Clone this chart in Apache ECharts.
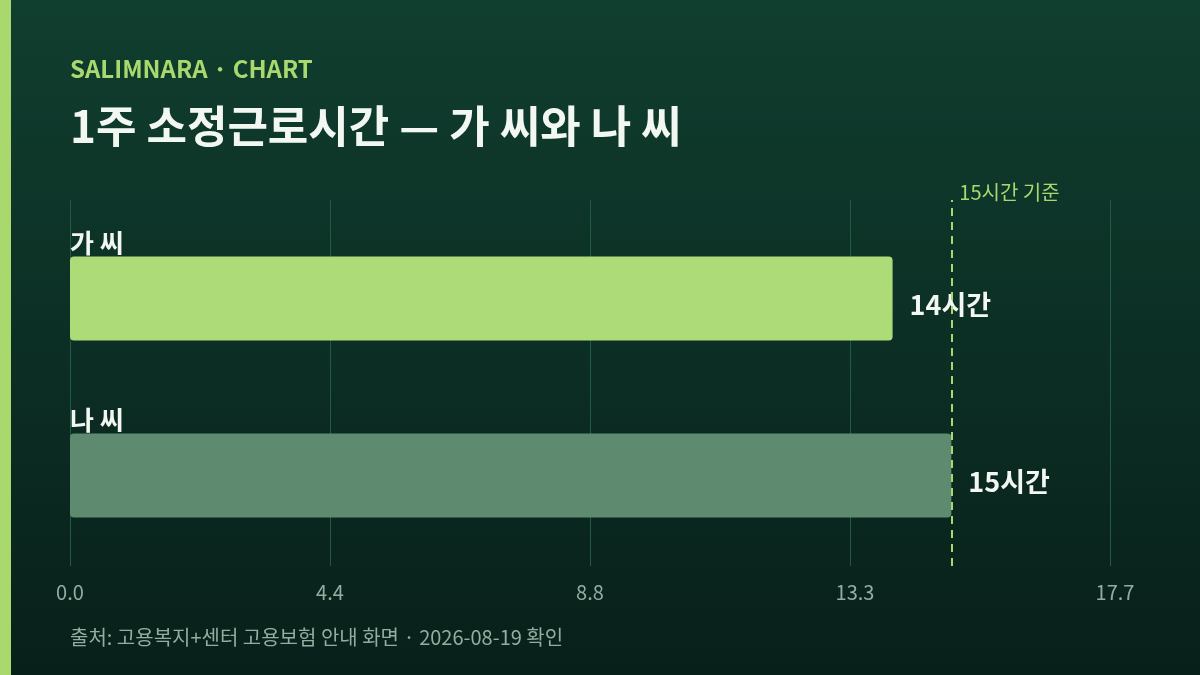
<!DOCTYPE html>
<html><head><meta charset="utf-8">
<script src="https://cdn.jsdelivr.net/npm/echarts@6/dist/echarts.min.js"></script>
<style>html,body{margin:0;padding:0;background:#0b2a20;}#c{width:1200px;height:675px;}</style>
</head><body><div id="c"></div>
<script>
const categories = ['가 씨', '나 씨'];
const hours = [14, 15];
const barColors = ['#addb78', '#5e8b6f'];
const threshold = 15;
const thresholdLabel = '15시간 기준';
const axisMax = 17.7;
const axisInterval = 4.425;
const kicker = 'SALIMNARA · CHART';
const title = '1주 소정근로시간 — 가 씨와 나 씨';
const source = '출처: 고용복지+센터 고용보험 안내 화면 · 2026-08-19 확인';

const FONT = '"Noto Sans CJK KR", "Noto Sans", sans-serif';
const chart = echarts.init(document.getElementById('c'));
chart.setOption({
  backgroundColor: {
    type: 'linear', x: 0, y: 0, x2: 0, y2: 1,
    colorStops: [{offset: 0, color: '#103e2f'}, {offset: 1, color: '#08201a'}]
  },
  textStyle: {fontFamily: FONT},
  graphic: [
    {type: 'rect', left: 0, top: 0, shape: {width: 11, height: 675}, style: {fill: '#a8d86e'}},
    {type: 'text', left: 70, top: 57, style: {text: kicker, fill: '#a8d86e', font: 'bold 24px ' + FONT}},
    {type: 'text', left: 70, top: 104, style: {text: title, fill: '#f2f7f2', font: 'bold 44px ' + FONT}},
    {type: 'text', left: 70, top: 627, style: {text: source, fill: '#93ae9f', font: '20px ' + FONT}}
  ],
  grid: [
    {left: 70, right: 90, top: 200, bottom: 109},
    {left: 70, right: 90, top: 210, bottom: 111}
  ],
  xAxis: [
    {
      type: 'value', gridIndex: 0, min: 0, max: axisMax, interval: axisInterval,
      axisLine: {show: false}, axisTick: {show: false},
      splitLine: {lineStyle: {color: '#235a46', width: 1}},
      axisLabel: {
        color: '#93ae9f', fontSize: 20, margin: 16,
        formatter: v => (v >= 10 ? '{w|' + v.toFixed(1) + '}' : v.toFixed(1)),
        rich: {w: {color: '#93ae9f', fontSize: 20, padding: [0, 0, 0, 10]}}
      }
    },
    {
      type: 'value', gridIndex: 1, min: 0, max: axisMax, show: false
    }
  ],
  yAxis: [
    {type: 'value', gridIndex: 0, min: 0, max: 1, show: false},
    {
      type: 'category', gridIndex: 1, data: categories, inverse: true,
      axisLine: {show: false}, axisTick: {show: false}, splitLine: {show: false},
      axisLabel: {
        inside: true, margin: 0, color: '#f2f7f2', fontSize: 26, fontWeight: 'bold',
        verticalAlign: 'bottom', padding: [0, 0, 42, 0]
      }
    }
  ],
  series: [
    {
      type: 'line', xAxisIndex: 0, yAxisIndex: 0, data: [], symbol: 'none', silent: true,
      markLine: {
        silent: true, symbol: 'none',
        lineStyle: {color: '#a8d86e', type: [8, 6], width: 2},
        label: {
          show: true, position: 'end', formatter: thresholdLabel, distance: 0,
          color: '#a8d86e', fontSize: 20, align: 'left', offset: [8, 2]
        },
        data: [{xAxis: threshold}]
      }
    },
    {
      type: 'bar', xAxisIndex: 1, yAxisIndex: 1, barWidth: 84,
      data: hours.map((v, i) => ({value: v, itemStyle: {color: barColors[i]}})),
      itemStyle: {borderRadius: 4},
      label: {
        show: true, position: 'right', distance: 17, formatter: '{c}시간', offset: [0, 6],
        color: '#f2f7f2', fontSize: 27, fontWeight: 'bold'
      }
    }
  ]
});
</script></body></html>
